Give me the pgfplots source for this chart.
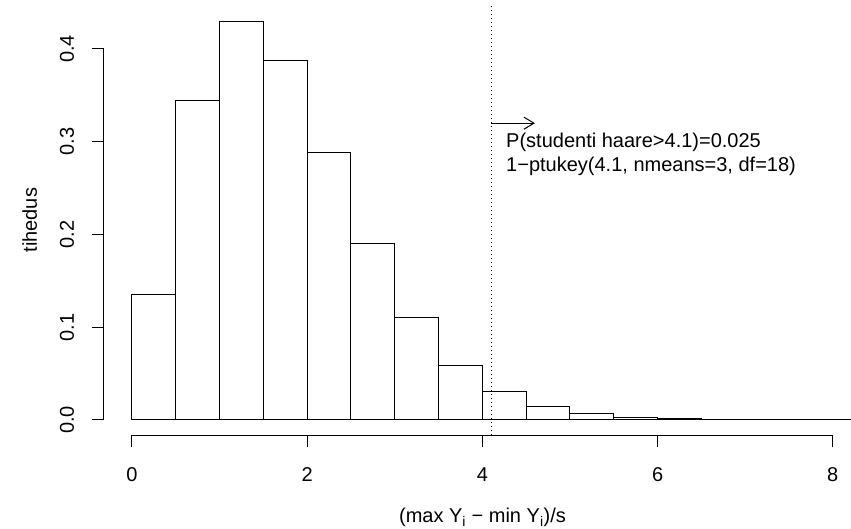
\documentclass[border=0pt]{standalone}
\usepackage{fontspec}
\setmainfont{Liberation Sans}
\usepackage{pgfplots}
\pgfplotsset{compat=1.18}
\usetikzlibrary{arrows.meta}

\begin{document}
\begin{tikzpicture}[font=\fontsize{20bp}{24bp}\selectfont]
% page = 851 x 529 px, plot region lower left at (104,435) px
\useasboundingbox (-104bp,-94bp) rectangle (747bp,435bp);
\begin{axis}[
    at={(0,0)}, anchor=south west,
    scale only axis,
    width=747bp, height=429.6bp,
    xmin=-0.3196, xmax=8.208,
    ymin=-0.0162, ymax=0.447,
    clip mode=individual,
    axis x line*=bottom, axis y line*=left,
    axis line style={draw=none,-},
    tick align=outside,
    major tick length=12bp,
    tick style={black, line width=1bp},
    xtick={0,2,4,6,8}, xticklabels={0,2,4,6,8},
    ytick={0,0.1,0.2,0.3,0.4}, yticklabels={0.0,0.1,0.2,0.3,0.4},
    minor tick num=0,
    xticklabel style={anchor=base, yshift=-34bp},
    yticklabel style={xshift=-18bp, rotate=90, anchor=base},
    xlabel={(max Y\textsubscript{i} − min Y\textsubscript{i})/s},
    xlabel style={at={(axis description cs:0.5067,-0.2048)}, anchor=base},
    ylabel={tihedus},
    ylabel style={at={(axis description cs:-0.0897,0.5)}, anchor=base},
]
\addplot[ybar interval, fill=white, draw=black, line width=1bp] coordinates {
    (0.0, 0.1348)
    (0.5, 0.3440)
    (1.0, 0.4295)
    (1.5, 0.3880)
    (2.0, 0.2880)
    (2.5, 0.1898)
    (3.0, 0.1100)
    (3.5, 0.0582)
    (4.0, 0.0302)
    (4.5, 0.0148)
    (5.0, 0.0069)
    (5.5, 0.0032)
    (6.0, 0.0015)
    (6.5, 0.0007)
    (7.0, 0.0003)
    (7.5, 0.00015)
    (8.0, 0.0001)
    (8.5, 0.0001)
};
% critical value
\addplot[black, line width=0.8bp, dash pattern=on 1bp off 3bp] coordinates {(4.1,-0.0162) (4.1,0.447)};
\addplot[black, line width=1bp, -{Straight Barb[length=10bp,width=12bp,line width=1bp]}] coordinates {(4.1,0.320) (4.60,0.320)};
% R style axis lines, only over the tick range
\draw[line width=1bp] (axis cs:0,-0.0162) -- (axis cs:8,-0.0162);
\draw[line width=1bp] (axis cs:-0.3196,0) -- (axis cs:-0.3196,0.4);
\node[anchor=base west, inner sep=0pt] at (axis cs:4.27,0.2943) {P(studenti haare>4.1)=0.025};
\node[anchor=base west, inner sep=0pt] at (axis cs:4.27,0.2684) {1−ptukey(4.1, nmeans=3, df=18)};
\end{axis}
\end{tikzpicture}
\end{document}
